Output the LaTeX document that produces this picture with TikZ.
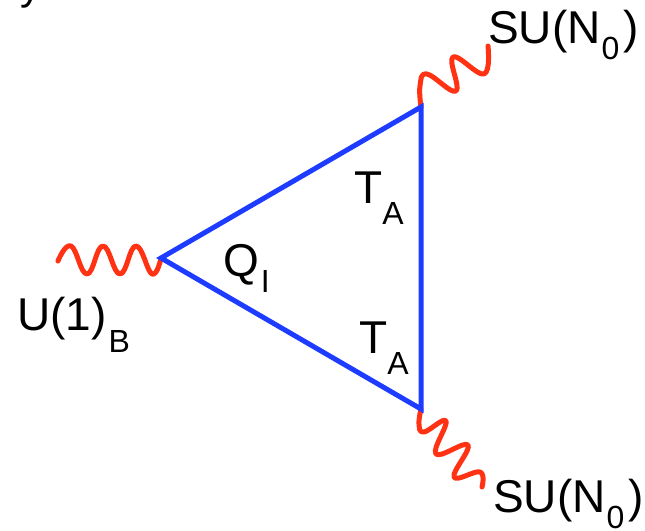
\documentclass[tikz,border=0pt]{standalone}
\usepackage{fontspec}
\setmainfont{Liberation Sans}
\definecolor{myblue}{RGB}{30,60,255}
\definecolor{myred}{RGB}{255,50,20}
\newcommand{\lowsub}[2][17pt]{\raisebox{-#1}{\fontsize{32}{34}\selectfont #2}}
\tikzset{
  lbl/.style={anchor=base west, inner sep=0pt, font=\fontsize{44}{50}\selectfont},
  prop/.style={draw=myblue, line width=5pt, line join=miter},
  gluon/.style={draw=myred, line width=5pt, line cap=round, line join=round},
}
\begin{document}
\begin{tikzpicture}[x=1pt,y=-1pt]
\useasboundingbox (0,0) rectangle (645,530);
% vertices
\coordinate (L) at (161,258);
\coordinate (TR) at (421,107);
\coordinate (BR) at (421,409);
% free ends of the wavy lines
\coordinate (Lend) at (58,261);
\coordinate (TRend) at (488,46);
\coordinate (BRend) at (482,487);
% wavy lines
\draw[gluon] plot[smooth, tension=0.75] coordinates {(Lend) (71,246) (87,274) (103,246) (120,274) (136,246) (152,274) (L)};
\draw[gluon] plot[smooth, tension=0.7] coordinates {(TR) (420,86) (427,74) (456,91) (453,57) (484,74) (TRend)};
\draw[gluon] plot[smooth, tension=0.7] coordinates {(BR) (419,424) (424,432) (446,421) (436,454) (468,445) (454,477) (480,472) (BRend)};
% triangle
\draw[prop] (L) -- (TR) -- (BR) -- cycle;
% labels
\node[lbl, font=\fontsize{42}{48}\selectfont] (ytop) at (20,-1) {y};
\node[lbl, font=\fontsize{46}{50}\selectfont] (sutop) at (488,43) {SU(N\kern1pt\lowsub[16pt]{0}\kern4pt)};
\node[lbl, font=\fontsize{46}{50}\selectfont] (subot) at (493,512) {SU(N\kern1pt\lowsub[16pt]{0}\kern4pt)};
\node[lbl, font=\fontsize{46}{50}\selectfont] (u1) at (17,330) {U(1)\kern2pt\lowsub[22pt]{B}};
\node[lbl, font=\fontsize{46}{50}\selectfont] (ta1) at (354,203) {T\lowsub[21pt]{A}};
\node[lbl, font=\fontsize{46}{50}\selectfont] (ta2) at (359,353) {T\lowsub[21pt]{A}};
\node[lbl, font=\fontsize{46}{50}\selectfont] (qi) at (223,276) {Q\kern2pt\lowsub[16pt]{I}};
\end{tikzpicture}
\end{document}
